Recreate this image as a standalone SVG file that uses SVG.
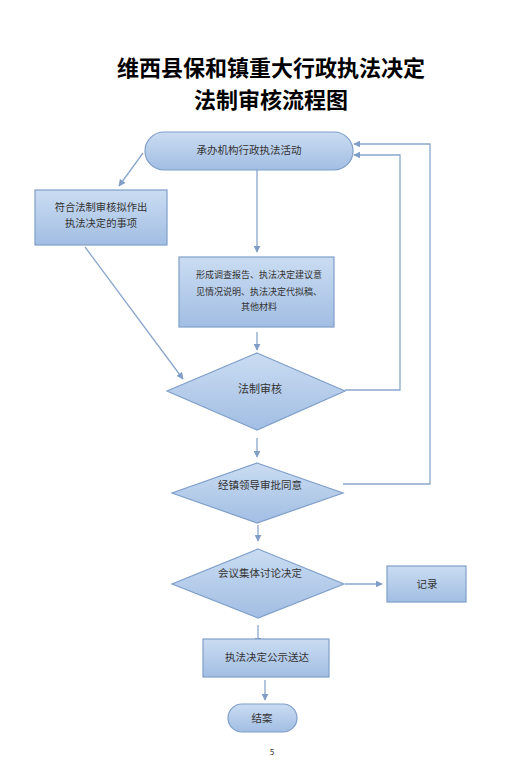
<svg xmlns="http://www.w3.org/2000/svg" width="523" height="763" viewBox="0 0 523 763">
<defs>
<linearGradient id="g" x1="0" y1="0" x2="0" y2="1">
<stop offset="0" stop-color="#cadcf2"/>
<stop offset="1" stop-color="#a2bee3"/>
</linearGradient>
<marker id="ah" viewBox="0 0 10 10" refX="9" refY="5" markerWidth="7" markerHeight="7" markerUnits="userSpaceOnUse" orient="auto">
<path d="M0,0 L10,5 L0,10 Z" fill="#7f9dc6"/>
</marker>
<style>
.n{fill:url(#g);stroke:#7f9fc9;stroke-width:1.2}
.t{font-family:"Noto Sans CJK SC","Noto Sans CJK JP",sans-serif;fill:#333;text-anchor:middle}
.c{fill:none;stroke:#8ba6cc;stroke-width:1.3}
.a{marker-end:url(#ah)}
</style>
</defs>
<rect width="523" height="763" fill="#fff"/>
<g id="title">
<text class="t" x="271" y="76" font-size="22" font-weight="bold" fill="#000" style="fill:#000">维西县保和镇重大行政执法决定</text>
<text class="t" x="271" y="108" font-size="22" font-weight="bold" style="fill:#000">法制审核流程图</text>
</g>
<g id="connectors">
<path class="c a" d="M143,153 L119,186"/>
<path class="c a" d="M257,170 L257,252"/>
<path class="c a" d="M85,247 L183,379"/>
<path class="c a" d="M257,332 L257,350"/>
<path class="c a" d="M257,438 L257,457"/>
<path class="c a" d="M258,525 L258,541"/>
<path class="c a" d="M345,584 L382,584"/>
<path class="c a" d="M258,625 L258,644"/>
<path class="c a" d="M265,680 L265,700"/>
<path class="c a" d="M345,390 L400,390 L400,155 L354,155"/>
<path class="c a" d="M343,484 L430,484 L430,144 L354,144"/>
</g>
<g id="start">
<rect class="n" x="145" y="132" width="208" height="38" rx="19" ry="19"/>
<text class="t" x="249" y="154" font-size="10.5">承办机构行政执法活动</text>
</g>
<g id="matter">
<rect class="n" x="35" y="190" width="132" height="55"/>
<text class="t" x="101" y="211" font-size="10.3">符合法制审核拟作出</text>
<text class="t" x="101" y="227" font-size="10.3">执法决定的事项</text>
</g>
<g id="materials">
<rect class="n" x="179" y="257" width="155" height="70"/>
<text class="t" x="259" y="278" font-size="9">形成调查报告、执法决定建议意</text>
<text class="t" x="259" y="295" font-size="9">见情况说明、执法决定代拟稿、</text>
<text class="t" x="259" y="310" font-size="9">其他材料</text>
</g>
<g id="review">
<polygon class="n" points="257,353 345,391 257,430 167,391"/>
<text class="t" x="260" y="393" font-size="11">法制审核</text>
</g>
<g id="approve">
<polygon class="n" points="257,463 343,493 257,523 172,493"/>
<text class="t" x="260" y="489" font-size="10.5">经镇领导审批同意</text>
</g>
<g id="meeting">
<polygon class="n" points="258,549 344,584 258,618 172,584"/>
<text class="t" x="260" y="577" font-size="10.5">会议集体讨论决定</text>
</g>
<g id="record">
<rect class="n" x="387" y="566" width="79" height="36"/>
<text class="t" x="427" y="588" font-size="10.5">记录</text>
</g>
<g id="publish">
<rect class="n" x="203" y="639" width="126" height="38"/>
<text class="t" x="267" y="661" font-size="10.5">执法决定公示送达</text>
</g>
<g id="end">
<rect class="n" x="228" y="704" width="69" height="28" rx="14" ry="14"/>
<text class="t" x="262" y="722" font-size="10.5">结案</text>
</g>
<g id="page">
<text class="t" x="272" y="755" font-size="8">5</text>
</g>
</svg>
